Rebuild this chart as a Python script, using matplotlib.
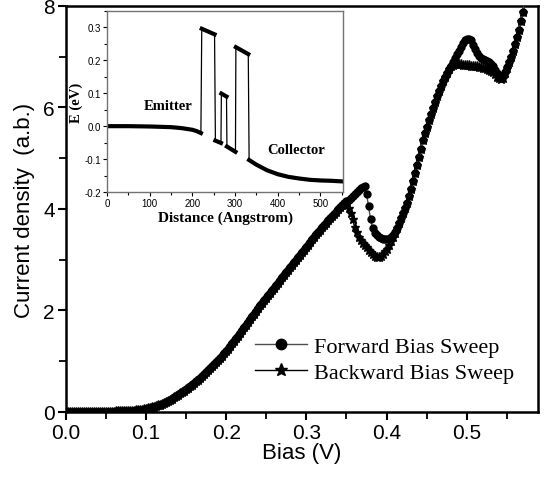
import matplotlib
matplotlib.use("Agg")
import matplotlib.pyplot as plt
from matplotlib.ticker import MultipleLocator, FormatStrFormatter

plt.rcParams['font.family'] = 'Liberation Sans'

# Bias sweep (V), 2.5 mV steps, and current density (a.b.)
bias = [round(i * 0.0025, 4) for i in range(231)]

forward = [
    0.00, 0.00, 0.00, 0.00, 0.00, 0.00, 0.00, 0.00, 0.00, 0.00,
    0.00, 0.00, 0.00, 0.00, 0.00, 0.00, 0.00, 0.00, 0.00, 0.00,
    0.00, 0.00, 0.00, 0.00, 0.00, 0.01, 0.01, 0.01, 0.01, 0.01,
    0.01, 0.02, 0.02, 0.02, 0.02, 0.03, 0.03, 0.04, 0.04, 0.05,
    0.06, 0.07, 0.08, 0.09, 0.10, 0.115, 0.13, 0.145, 0.16, 0.18,
    0.20, 0.22, 0.24, 0.265, 0.29, 0.315, 0.34, 0.365, 0.39, 0.42,
    0.45, 0.48, 0.51, 0.54, 0.57, 0.605, 0.64, 0.675, 0.71, 0.745,
    0.78, 0.82, 0.86, 0.90, 0.94, 0.98, 1.02, 1.065, 1.11, 1.155,
    1.20, 1.25, 1.30, 1.35, 1.40, 1.45, 1.50, 1.555, 1.61, 1.665,
    1.72, 1.775, 1.83, 1.885, 1.94, 1.995, 2.05, 2.10, 2.15, 2.20,
    2.25, 2.30, 2.35, 2.40, 2.45, 2.50, 2.55, 2.60, 2.65, 2.70,
    2.75, 2.80, 2.85, 2.90, 2.95, 3.00, 3.05, 3.10, 3.15, 3.20,
    3.25, 3.30, 3.35, 3.40, 3.45, 3.50, 3.55, 3.595, 3.64, 3.685,
    3.73, 3.775, 3.82, 3.865, 3.91, 3.95, 3.99, 4.03, 4.07, 4.11,
    4.15, 4.185, 4.22, 4.26, 4.30, 4.335, 4.37, 4.41, 4.44, 4.45,
    4.30, 4.05, 3.80, 3.62, 3.52, 3.48, 3.45, 3.43, 3.41, 3.40,
    3.40, 3.41, 3.44, 3.49, 3.55, 3.63, 3.72, 3.82, 3.92, 4.02,
    4.12, 4.26, 4.40, 4.55, 4.70, 4.86, 5.02, 5.19, 5.35, 5.49,
    5.62, 5.75, 5.88, 5.99, 6.10, 6.22, 6.33, 6.43, 6.52, 6.60,
    6.68, 6.75, 6.82, 6.90, 6.97, 7.05, 7.12, 7.20, 7.28, 7.33,
    7.35, 7.35, 7.32, 7.24, 7.15, 7.08, 7.02, 6.98, 6.95, 6.93,
    6.92, 6.89, 6.86, 6.81, 6.74, 6.68, 6.62, 6.60, 6.62, 6.70,
    6.80, 6.90, 7.00, 7.12, 7.25, 7.38, 7.52, 7.70, 7.88, 8.08,
    8.30,
]

backward = [
    0.00, 0.00, 0.00, 0.00, 0.00, 0.00, 0.00, 0.00, 0.00, 0.00,
    0.00, 0.00, 0.00, 0.00, 0.00, 0.00, 0.00, 0.00, 0.00, 0.00,
    0.00, 0.00, 0.00, 0.00, 0.00, 0.01, 0.01, 0.01, 0.01, 0.01,
    0.01, 0.02, 0.02, 0.02, 0.02, 0.03, 0.03, 0.04, 0.04, 0.05,
    0.06, 0.07, 0.08, 0.09, 0.10, 0.115, 0.13, 0.145, 0.16, 0.18,
    0.20, 0.22, 0.24, 0.265, 0.29, 0.315, 0.34, 0.365, 0.39, 0.42,
    0.45, 0.48, 0.51, 0.54, 0.57, 0.605, 0.64, 0.675, 0.71, 0.745,
    0.78, 0.82, 0.86, 0.90, 0.94, 0.98, 1.02, 1.065, 1.11, 1.155,
    1.20, 1.25, 1.30, 1.35, 1.40, 1.45, 1.50, 1.555, 1.61, 1.665,
    1.72, 1.775, 1.83, 1.885, 1.94, 1.995, 2.05, 2.10, 2.15, 2.20,
    2.25, 2.30, 2.35, 2.40, 2.45, 2.50, 2.55, 2.60, 2.65, 2.70,
    2.75, 2.80, 2.85, 2.90, 2.95, 3.00, 3.05, 3.10, 3.15, 3.20,
    3.25, 3.30, 3.35, 3.40, 3.45, 3.50, 3.55, 3.595, 3.64, 3.685,
    3.73, 3.775, 3.82, 3.865, 3.91, 3.95, 3.99, 4.03, 4.07, 4.10,
    4.08, 4.02, 3.92, 3.80, 3.65, 3.54, 3.45, 3.38, 3.33, 3.29,
    3.25, 3.20, 3.16, 3.12, 3.08, 3.06, 3.06, 3.08, 3.12, 3.17,
    3.22, 3.29, 3.36, 3.44, 3.52, 3.62, 3.72, 3.82, 3.92, 4.02,
    4.12, 4.26, 4.40, 4.55, 4.70, 4.86, 5.02, 5.19, 5.35, 5.49,
    5.62, 5.75, 5.88, 5.99, 6.10, 6.22, 6.33, 6.43, 6.52, 6.60,
    6.68, 6.75, 6.82, 6.84, 6.85, 6.85, 6.85, 6.85, 6.84, 6.84,
    6.83, 6.83, 6.82, 6.82, 6.81, 6.81, 6.80, 6.79, 6.78, 6.77,
    6.76, 6.74, 6.72, 6.69, 6.65, 6.61, 6.58, 6.57, 6.58, 6.67,
    6.78, 6.90, 7.00, 7.12, 7.25, 7.38, 7.52, 7.70, 7.88, 8.08,
    8.30,
]

# Inset: band profile E (eV) vs distance (Angstrom), one list per layer
emitter_x = [0, 50, 100, 150, 175, 200, 210, 220]
emitter_e = [0.0, 0.0, -0.001, -0.003, -0.006, -0.011, -0.015, -0.021]
barrier1_x = [222, 252]
barrier1_e = [0.296, 0.279]
well1_x = [254, 267]
well1_e = [-0.044, -0.051]
barrier2_x = [268, 280]
barrier2_e = [0.099, 0.090]
well2_x = [281, 301]
well2_e = [-0.062, -0.078]
barrier3_x = [302, 331]
barrier3_e = [0.240, 0.219]
collector_x = [333, 350, 375, 400, 425, 450, 475, 500, 525, 553]
collector_e = [-0.103, -0.117, -0.134, -0.146, -0.154, -0.159, -0.163, -0.165, -0.166, -0.168]

fig = plt.figure(figsize=(5.46, 4.81), dpi=100)
ax = fig.add_axes([0.1209, 0.1414, 0.8645, 0.8441])

ax.plot(bias, forward, color='0.3', lw=1, marker='o', ms=5, mfc='black', mec='black',
        label='Forward Bias Sweep', zorder=3)
ax.plot(bias, backward, color='black', lw=1, marker='*', ms=6.5, mfc='black', mec='black',
        label='Backward Bias Sweep', zorder=2)

ax.set_xlim(0, 0.589)
ax.set_ylim(0, 8)
ax.xaxis.set_major_locator(MultipleLocator(0.1))
ax.xaxis.set_minor_locator(MultipleLocator(0.05))
ax.yaxis.set_major_locator(MultipleLocator(2))
ax.yaxis.set_minor_locator(MultipleLocator(1))
ax.xaxis.set_major_formatter(FormatStrFormatter('%.1f'))
ax.tick_params(which='major', direction='out', length=6, width=1.5, labelsize=15,
               top=False, right=False, pad=2)
ax.tick_params(which='minor', direction='out', length=5, width=1.3, top=False, right=False)
for s in ax.spines.values():
    s.set_linewidth(1.8)
ax.set_xlabel('Bias (V)', fontsize=16, labelpad=0)
ax.set_ylabel('Current density  (a.b.)', fontsize=16, labelpad=6)

ax.legend(loc='lower left', bbox_to_anchor=(0.40, 0.072), frameon=False,
          prop={'family': 'Liberation Serif', 'size': 16}, handlelength=2.35,
          handletextpad=0.3, labelspacing=0.25, borderaxespad=0, borderpad=0,
          markerscale=1.5)

# inset with the band diagram
ins = fig.add_axes([0.196, 0.5988, 0.4322, 0.3763])
segs = [(emitter_x, emitter_e), (barrier1_x, barrier1_e), (well1_x, well1_e),
        (barrier2_x, barrier2_e), (well2_x, well2_e), (barrier3_x, barrier3_e),
        (collector_x, collector_e)]
all_x, all_e = [], []
for sx, se in segs:
    all_x += sx
    all_e += se
ins.plot(all_x, all_e, color='black', lw=0.9)
for sx, se in segs:
    ins.plot(sx, se, color='black', lw=3)

ins.set_xlim(0, 553)
ins.set_ylim(-0.2, 0.35)
ins.xaxis.set_major_locator(MultipleLocator(100))
ins.xaxis.set_minor_locator(MultipleLocator(50))
ins.yaxis.set_major_locator(MultipleLocator(0.1))
ins.yaxis.set_minor_locator(MultipleLocator(0.05))
ins.yaxis.set_major_formatter(FormatStrFormatter('%.1f'))
ins.tick_params(which='both', direction='out', labelsize=7, length=3, width=0.8,
                pad=1.5, colors='black')
ins.tick_params(which='minor', length=2)
for s in ins.spines.values():
    s.set_color('0.45')
    s.set_linewidth(1)
ins.set_xlabel('Distance (Angstrom)', family='Liberation Serif', weight='bold', fontsize=11,
               labelpad=2)
ins.set_ylabel('E (eV)', family='Liberation Serif', weight='bold', fontsize=10.5, labelpad=1)
ins.text(143, 0.062, 'Emitter', family='Liberation Serif', weight='bold', fontsize=10.5,
         ha='center', va='center')
ins.text(443, -0.072, 'Collector', family='Liberation Serif', weight='bold', fontsize=10.5,
         ha='center', va='center')

fig.savefig('out.png', dpi=100)
